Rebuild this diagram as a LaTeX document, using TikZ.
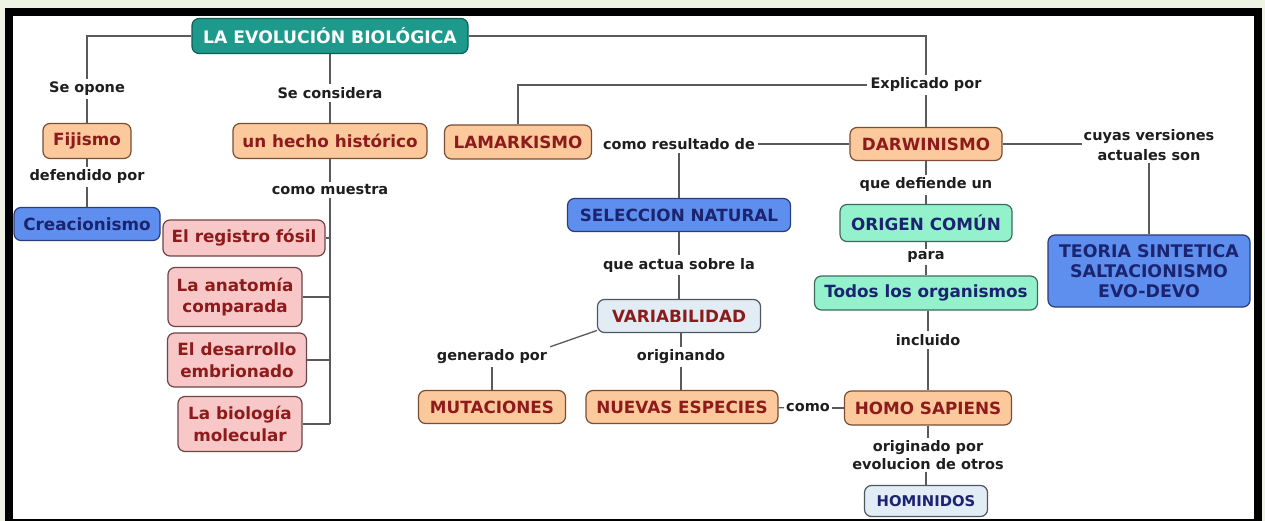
\documentclass[tikz,border=0pt]{standalone}
\usepackage{fontspec}
\newfontfamily\vf{DejaVu Sans}
\definecolor{outerbg}{HTML}{EEF3E4}
\definecolor{tealf}{HTML}{1E9A8C}
\definecolor{teald}{HTML}{0E5E55}
\definecolor{orangef}{HTML}{FBC99C}
\definecolor{oranged}{HTML}{7A4E32}
\definecolor{pinkf}{HTML}{F8C8C8}
\definecolor{pinkd}{HTML}{6E4444}
\definecolor{bluef}{HTML}{5E8FEE}
\definecolor{blued}{HTML}{2C3C78}
\definecolor{mintf}{HTML}{93F2CC}
\definecolor{mintd}{HTML}{3E6A5C}
\definecolor{paleb}{HTML}{E1ECF5}
\definecolor{paled}{HTML}{4E5660}
\definecolor{redtxt}{HTML}{8E1B1B}
\definecolor{navytxt}{HTML}{1C2470}
\definecolor{linec}{HTML}{5A5A5A}
\definecolor{lbltxt}{HTML}{1E1E1E}
\tikzset{
  box/.style={draw, rounded corners=7pt, line width=1.2pt, inner sep=0pt, align=center,
    font=\vf\bfseries\fontsize{16.8}{21.5}\selectfont},
  titlebox/.style={box, fill=tealf, draw=teald, text=white, font=\vf\bfseries\fontsize{17.2}{20}\selectfont},
  orangebox/.style={box, fill=orangef, draw=oranged, text=redtxt},
  pinkbox/.style={box, fill=pinkf, draw=pinkd, text=redtxt},
  bluebox/.style={box, fill=bluef, draw=blued, text=navytxt},
  mintbox/.style={box, fill=mintf, draw=mintd, text=navytxt},
  palebox/.style={box, fill=paleb, draw=paled},
  lbl/.style={inner sep=3pt, align=center, text=lbltxt, font=\vf\bfseries\fontsize{14.5}{19}\selectfont},
  conn/.style={draw=linec, line width=1.3pt}
}
\begin{document}
\begin{tikzpicture}[x=1pt,y=-1pt]
% frame
\fill[outerbg] (0,0) rectangle (1265,521);
\fill[black] (5,8) rectangle (1262,521);
\fill[white] (13,16) rectangle (1254,519);
\useasboundingbox (0,0) rectangle (1265,521);

% nodes
\node[titlebox, minimum width=276, minimum height=35] (title) at (330,36) {LA EVOLUCIÓN BIOLÓGICA};
\node[orangebox, minimum width=88, minimum height=35] (fij) at (87,141) {Fijismo};
\node[bluebox, minimum width=146, minimum height=33] (creac) at (87,224) {Creacionismo};
\node[orangebox, minimum width=194, minimum height=35] (hecho) at (330,141) {un hecho histórico};
\node[pinkbox, minimum width=162, minimum height=36] (reg) at (244,238) {El registro fósil};
\node[pinkbox, minimum width=134, minimum height=59] (anat) at (235,297) {La anatomía\\comparada};
\node[pinkbox, minimum width=139, minimum height=54] (desa) at (237,360) {El desarrollo\\embrionado};
\node[pinkbox, minimum width=124, minimum height=55] (bio) at (240,424) {La biología\\molecular};
\node[orangebox, minimum width=147, minimum height=34] (lamark) at (518,142) {LAMARKISMO};
\node[orangebox, minimum width=152, minimum height=33] (darw) at (926,144) {DARWINISMO};
\node[bluebox, minimum width=223, minimum height=33] (selec) at (679,215) {SELECCION NATURAL};
\node[palebox, text=redtxt, minimum width=163, minimum height=33] (var) at (679,316) {VARIABILIDAD};
\node[orangebox, minimum width=147, minimum height=33] (mut) at (492,407) {MUTACIONES};
\node[orangebox, minimum width=192, minimum height=33] (nuevas) at (682,407) {NUEVAS ESPECIES};
\node[orangebox, minimum width=167, minimum height=34] (homo) at (928,408) {HOMO SAPIENS};
\node[palebox, text=navytxt, minimum width=123, minimum height=31, font=\vf\bfseries\fontsize{14.8}{16}\selectfont] (homin) at (926,501) {HOMINIDOS};
\node[mintbox, minimum width=172, minimum height=37] (origen) at (926,223) {ORIGEN COMÚN};
\node[mintbox, minimum width=223, minimum height=34] (todos) at (926,293) {Todos los organismos};
\node[bluebox, minimum width=202, minimum height=72, font=\vf\bfseries\fontsize{17.4}{20}\selectfont] (teoria) at (1149,271) {TEORIA SINTETICA\\SALTACIONISMO\\EVO-DEVO};

% labels
\node[lbl] (opone) at (87,89) {Se opone};
\node[lbl] (defend) at (87,177) {defendido por};
\node[lbl] (consid) at (330,93) {Se considera};
\node[lbl] (muestra) at (330,190) {como muestra};
\node[lbl] (explic) at (926,85) {Explicado por};
\node[lbl] (comores) at (679,144) {como resultado de};
\node[lbl] (actua) at (679,265) {que actua sobre la};
\node[lbl] (genpor) at (492,357) {generado por};
\node[lbl] (orig) at (681,357) {originando};
\node[lbl, inner sep=2pt] (como) at (808,408) {como};
\node[lbl] (defiende) at (926,185) {que defiende un};
\node[lbl, inner sep=2pt] (para) at (926,257) {para};
\node[lbl] (incl) at (928,340) {incluido};
\node[lbl, inner sep=2pt, font=\vf\bfseries\fontsize{14.5}{17.5}\selectfont] (orgpor) at (928,455) {originado por\\evolucion de otros};
\node[lbl, inner sep=2pt, font=\vf\bfseries\fontsize{14.5}{20}\selectfont] (cuyas) at (1149,145) {cuyas versiones\\actuales son};

% connectors
\path[conn] (title.west) -| (opone);
\path[conn] (opone) -- (fij);
\path[conn] (fij) -- (defend);
\path[conn] (defend) -- (creac);
\path[conn] (title) -- (consid);
\path[conn] (consid) -- (hecho);
\path[conn] (hecho) -- (muestra);
\path[conn] (muestra.south) -- (muestra.south |- bio.east);
\path[conn] (reg.east) -- (reg.east -| muestra.south);
\path[conn] (anat.east) -- (anat.east -| muestra.south);
\path[conn] (desa.east) -- (desa.east -| muestra.south);
\path[conn] (bio.east) -- (bio.east -| muestra.south);
\path[conn] (title.east) -| (explic);
\path[conn] (explic.west) -| (lamark);
\path[conn] (explic) -- (darw);
\path[conn] (comores.east) -- (darw.west);
\path[conn] (comores) -- (selec);
\path[conn] (selec) -- (actua);
\path[conn] (actua) -- (var);
\path[conn] (var.190) -- (genpor.north east);
\path[conn] (genpor.south) -- (genpor.south |- mut.north);
\path[conn] (var.south -| orig) -- (orig);
\path[conn] (orig) -- (orig |- nuevas.north);
\path[conn] (nuevas) -- (como);
\path[conn] (como) -- (homo);
\path[conn] (darw) -- (defiende);
\path[conn] (defiende) -- (origen);
\path[conn] (origen) -- (para);
\path[conn] (para) -- (todos);
\path[conn] (todos.south -| incl) -- (incl);
\path[conn] (incl) -- (homo);
\path[conn] (homo) -- (orgpor);
\path[conn] (orgpor.south -| homin) -- (homin);
\path[conn] (darw.east) -- (cuyas.west |- darw.east);
\path[conn] (cuyas) -- (teoria);
\end{tikzpicture}
\end{document}
